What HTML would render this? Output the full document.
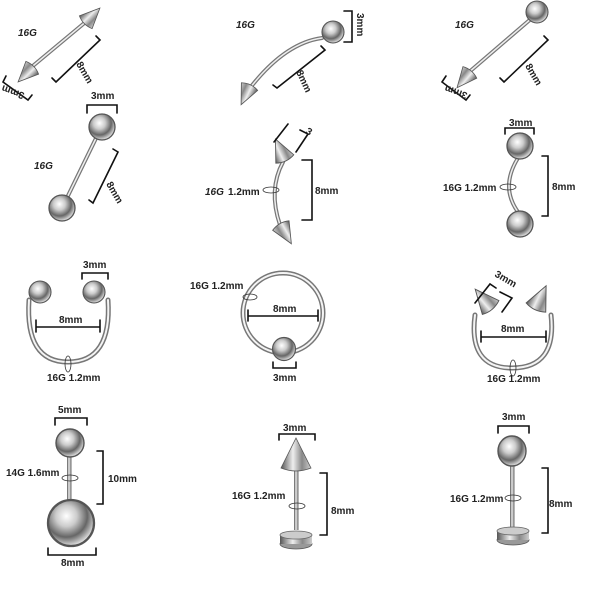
<!DOCTYPE html>
<html><head><meta charset="utf-8"><style>
html,body{margin:0;padding:0;background:#fff}
svg{display:block}
text{font-family:"Liberation Sans",sans-serif;font-size:10px;font-weight:bold;fill:#222}
.i{font-style:italic}
.b{fill:none;stroke:#111;stroke-width:1.6}
</style></head><body>
<svg width="600" height="600" viewBox="0 0 600 600" xmlns="http://www.w3.org/2000/svg">
<defs>
<radialGradient id="ball" cx="40%" cy="35%" r="65%">
<stop offset="0" stop-color="#fff"/><stop offset="0.35" stop-color="#ccc"/><stop offset="0.7" stop-color="#666"/><stop offset="1" stop-color="#ddd"/>
</radialGradient>
<linearGradient id="met" x1="0" y1="0" x2="1" y2="0">
<stop offset="0" stop-color="#555"/><stop offset="0.4" stop-color="#eee"/><stop offset="0.7" stop-color="#888"/><stop offset="1" stop-color="#ccc"/>
</linearGradient>
<g id="bl"><circle r="10" fill="url(#ball)" stroke="#555" stroke-width="1"/></g>
<g id="sp"><path d="M0,-14 L9,6 Q0,10 -9,6 Z" fill="url(#met)" stroke="#555" stroke-width="0.8"/></g>
</defs>
<g stroke-linecap="round">
<!-- Row 1 item1 -->
<line x1="28" y1="70" x2="88" y2="20" stroke="#777" stroke-width="4"/>
<line x1="28" y1="70" x2="88" y2="20" stroke="#eee" stroke-width="1.5"/>
<use href="#sp" transform="translate(28,72) rotate(-135)"/>
<use href="#sp" transform="translate(90,18) rotate(45)"/>
<text x="18" y="36" class="i">16G</text>
<path class="b" d="M52,78 L56,82 L100,40 L96,36"/>
<text transform="translate(76,64) rotate(60)">8mm</text>
<path class="b" d="M6,76 L3,82 L28,100 L32,95"/>
<text transform="translate(25,93) rotate(200)">3mm</text>
<!-- item2 -->
<path d="M322,38 Q285,43 250,88" stroke="#777" stroke-width="4" fill="none"/>
<path d="M322,38 Q285,43 250,88" stroke="#eee" stroke-width="1.5" fill="none"/>
<use href="#bl" transform="translate(333,32) scale(1.1)"/>
<use href="#sp" transform="translate(247,92) rotate(-155)"/>
<text x="236" y="28" class="i">16G</text>
<path class="b" d="M344,11 L352,11 L352,42 L344,42"/>
<text transform="translate(357,13) rotate(90)">3mm</text>
<path class="b" d="M273,85 L277,88 L325,50 L321,46"/>
<text transform="translate(296,72) rotate(65)">8mm</text>
<!-- item3 -->
<line x1="468" y1="73" x2="532" y2="18" stroke="#777" stroke-width="4"/>
<line x1="468" y1="73" x2="532" y2="18" stroke="#eee" stroke-width="1.5"/>
<use href="#bl" transform="translate(537,12) scale(1.1)"/>
<use href="#sp" transform="translate(466,77) rotate(-140)"/>
<text x="455" y="28" class="i">16G</text>
<path class="b" d="M500,78 L504,82 L548,40 L544,36"/>
<text transform="translate(525,66) rotate(60)">8mm</text>
<path class="b" d="M446,76 L442,82 L466,100 L470,95"/>
<text transform="translate(468,93) rotate(200)">3mm</text>
<!-- Row 2 item4 -->
<line x1="101" y1="128" x2="62" y2="208" stroke="#777" stroke-width="4"/>
<line x1="101" y1="128" x2="62" y2="208" stroke="#eee" stroke-width="1.5"/>
<use href="#bl" transform="translate(102,127) scale(1.3)"/>
<use href="#bl" transform="translate(62,208) scale(1.3)"/>
<text x="91" y="99">3mm</text>
<path class="b" d="M87,113 L87,105 L117,105 L117,113"/>
<text x="34" y="169" class="i">16G</text>
<path class="b" d="M89,200 L93,203 L118,152 L113,149"/>
<text transform="translate(106,184) rotate(60)">8mm</text>
<!-- item5 -->
<path d="M283,162 Q268,190 280,225" stroke="#777" stroke-width="4" fill="none"/>
<path d="M283,162 Q268,190 280,225" stroke="#eee" stroke-width="1.5" fill="none"/>
<use href="#sp" transform="translate(282,153) rotate(-25) scale(1.1)"/>
<use href="#sp" transform="translate(284,231) rotate(150) scale(1.05)"/>
<path class="b" d="M274,142 L288,124 M300,130 L308,134 L296,152"/>
<text transform="translate(305,133) rotate(30)" font-size="8">3</text>
<path class="b" d="M302,160 L312,160 L312,220 L302,220"/>
<text x="315" y="194">8mm</text>
<text x="205" y="195" class="i">16G</text><text x="228" y="195">1.2mm</text>
<ellipse cx="271" cy="190" rx="8" ry="3" fill="none" stroke="#333" stroke-width="0.8"/>
<!-- item6 -->
<path d="M518,158 Q500,187 518,212" stroke="#777" stroke-width="4" fill="none"/>
<path d="M518,158 Q500,187 518,212" stroke="#eee" stroke-width="1.5" fill="none"/>
<use href="#bl" transform="translate(520,146) scale(1.3)"/>
<use href="#bl" transform="translate(520,224) scale(1.3)"/>
<text x="509" y="126">3mm</text>
<path class="b" d="M505,134 L505,128 L534,128 L534,134"/>
<path class="b" d="M542,156 L548,156 L548,216 L542,216"/>
<text x="552" y="190">8mm</text>
<text x="443" y="191">16G 1.2mm</text>
<ellipse cx="508" cy="187" rx="8" ry="3" fill="none" stroke="#333" stroke-width="0.8"/>
<!-- Row 3 item7 -->
<path d="M29,300 Q25,362 68,362 Q112,362 108,300" stroke="#777" stroke-width="5" fill="none"/>
<path d="M29,300 Q25,362 68,362 Q112,362 108,300" stroke="#f4f4f4" stroke-width="2" fill="none"/>
<use href="#bl" transform="translate(40,292) scale(1.1)"/>
<use href="#bl" transform="translate(94,292) scale(1.1)"/>
<path class="b" d="M36,320 L36,332 M36,327 L100,327 M100,320 L100,332"/>
<text x="59" y="323">8mm</text>
<text x="83" y="268">3mm</text>
<path class="b" d="M82,279 L82,273 L108,273 L108,279"/>
<ellipse cx="68" cy="364" rx="3" ry="8" fill="none" stroke="#333" stroke-width="0.8"/>
<text x="47" y="381">16G 1.2mm</text>
<!-- item8 -->
<circle cx="283" cy="313" r="40" fill="none" stroke="#777" stroke-width="5"/>
<circle cx="283" cy="313" r="40" fill="none" stroke="#f4f4f4" stroke-width="2"/>
<use href="#bl" transform="translate(284,349) scale(1.15)"/>
<path class="b" d="M248,310 L248,321 M248,316 L318,316 M318,310 L318,321"/>
<text x="273" y="312">8mm</text>
<text x="190" y="289">16G 1.2mm</text>
<ellipse cx="250" cy="297" rx="7" ry="3" fill="none" stroke="#333" stroke-width="0.8"/>
<path class="b" d="M273,362 L273,368 L296,368 L296,362"/>
<text x="273" y="381">3mm</text>
<!-- item9 -->
<path d="M475,315 Q468,368 512,368 Q557,368 551,315" stroke="#777" stroke-width="5" fill="none"/>
<path d="M475,315 Q468,368 512,368 Q557,368 551,315" stroke="#f4f4f4" stroke-width="2" fill="none"/>
<use href="#sp" transform="translate(486,302) rotate(-40) scale(1.2)"/>
<use href="#sp" transform="translate(539,301) rotate(25) scale(1.2)"/>
<path class="b" d="M481,331 L481,342 M481,337 L546,337 M546,331 L546,342"/>
<text x="501" y="332">8mm</text>
<path class="b" d="M475,303 L490,284 L496,288 M500,292 L512,298 L502,312"/>
<text transform="translate(494,276) rotate(30)">3mm</text>
<ellipse cx="513" cy="368" rx="3" ry="8" fill="none" stroke="#333" stroke-width="0.8"/>
<text x="487" y="382">16G 1.2mm</text>
<!-- Row 4 item10 -->
<rect x="67" y="445" width="5" height="60" fill="url(#met)"/>
<use href="#bl" transform="translate(70,443) scale(1.4)"/>
<use href="#bl" transform="translate(71,523) scale(2.3)"/>
<text x="58" y="413">5mm</text>
<path class="b" d="M55,425 L55,418 L87,418 L87,425"/>
<path class="b" d="M97,451 L103,451 L103,504 L97,504"/>
<text x="108" y="482">10mm</text>
<text x="6" y="476">14G 1.6mm</text>
<ellipse cx="70" cy="478" rx="8" ry="3" fill="none" stroke="#333" stroke-width="0.8"/>
<path class="b" d="M48,548 L48,555 L96,555 L96,548"/>
<text x="61" y="566">8mm</text>
<!-- item11 -->
<rect x="294" y="468" width="5" height="62" fill="url(#met)"/>
<ellipse cx="296" cy="544" rx="16" ry="5" fill="#999" stroke="#555" stroke-width="0.8"/>
<rect x="280" y="535" width="32" height="9" fill="url(#met)"/>
<ellipse cx="296" cy="535" rx="16" ry="4" fill="#ccc" stroke="#666" stroke-width="0.8"/>
<path d="M296,438 L311,468 Q296,474 281,468 Z" fill="url(#met)" stroke="#555" stroke-width="0.8"/>
<text x="283" y="431">3mm</text>
<path class="b" d="M279,440 L279,434 L315,434 L315,440"/>
<path class="b" d="M320,473 L327,473 L327,535 L320,535"/>
<text x="331" y="514">8mm</text>
<text x="232" y="499">16G 1.2mm</text>
<ellipse cx="297" cy="506" rx="8" ry="3" fill="none" stroke="#333" stroke-width="0.8"/>
<!-- item12 -->
<rect x="510" y="458" width="5" height="72" fill="url(#met)"/>
<ellipse cx="513" cy="540" rx="16" ry="5" fill="#999" stroke="#555" stroke-width="0.8"/>
<rect x="497" y="531" width="32" height="9" fill="url(#met)"/>
<ellipse cx="513" cy="531" rx="16" ry="4" fill="#ccc" stroke="#666" stroke-width="0.8"/>
<use href="#bl" transform="translate(512,451) scale(1.4,1.5)"/>
<text x="502" y="420">3mm</text>
<path class="b" d="M498,433 L498,426 L529,426 L529,433"/>
<path class="b" d="M542,468 L548,468 L548,533 L542,533"/>
<text x="549" y="507">8mm</text>
<text x="450" y="502">16G 1.2mm</text>
<ellipse cx="513" cy="498" rx="8" ry="3" fill="none" stroke="#333" stroke-width="0.8"/>
</g>
</svg>
</body></html>
